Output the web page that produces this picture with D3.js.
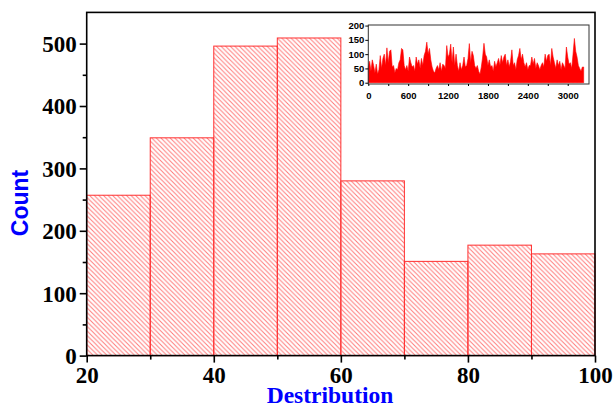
<!DOCTYPE html>
<html>
<head>
<meta charset="utf-8">
<script src="https://cdn.jsdelivr.net/npm/d3@7/dist/d3.min.js"></script>
<style>
  html, body { margin: 0; padding: 0; background: #fff; }
  svg { display: block; }
</style>
</head>
<body>
<svg id="chart" width="616" height="408"></svg>
<script>
// Histogram bins (lower edge) and counts
const binStarts = [20, 30, 40, 50, 60, 70, 80, 90];
const binWidth = 10;
const counts = [257, 349, 496, 509, 280, 151, 177, 163];
const xTicks = [20, 40, 60, 80, 100];
const yTicks = [0, 100, 200, 300, 400, 500];

// Inset series: raw signal sampled every 20 steps
const insetStep = 20;
const insetValues = [
  55, 75, 40, 80, 60, 35, 65, 30, 45, 95, 50, 85, 100, 60, 122, 70, 110, 115, 55, 60,
  35, 50, 45, 70, 80, 120, 115, 60, 45, 60, 40, 90, 70, 55, 60, 40, 90, 65, 80, 50,
  85, 60, 95, 110, 142, 100, 120, 80, 55, 40, 35, 50, 60, 45, 70, 40, 65, 60, 50, 130,
  90, 100, 135, 70, 125, 60, 100, 60, 40, 70, 45, 60, 90, 55, 60, 85, 137, 70, 110, 95,
  60, 50, 60, 40, 30, 55, 90, 138, 100, 90, 60, 80, 55, 60, 40, 75, 55, 70, 85, 60,
  95, 70, 90, 100, 60, 80, 55, 75, 115, 60, 70, 45, 80, 95, 120, 80, 100, 70, 55, 70,
  45, 60, 60, 90, 65, 85, 50, 70, 60, 45, 60, 70, 55, 100, 75, 95, 100, 60, 120, 90,
  70, 50, 80, 60, 75, 45, 70, 60, 50, 125, 90, 65, 70, 50, 100, 155, 110, 90, 60, 50,
  40, 55, 55
];
const insetXTicks = [0, 600, 1200, 1800, 2400, 3000];
const insetYTicks = [0, 50, 100, 150, 200];

const svg = d3.select("#chart");
const serif = "'Liberation Serif', 'Times New Roman', serif";
const sans = "'Liberation Sans', Arial, sans-serif";

// ---- main plot ----
const x = d3.scaleLinear().domain([20, 100]).range([86.7, 595]);
const y = d3.scaleLinear().domain([0, 550]).range([355.6, 12.4]);

// diagonal hatch fill
const defs = svg.append("defs");
const hs = 4.6;
const pat = defs.append("pattern")
  .attr("id", "hatch")
  .attr("patternUnits", "userSpaceOnUse")
  .attr("width", hs).attr("height", hs);
pat.append("path")
  .attr("d", `M0,0 L${hs},${hs} M${-hs/2},${hs/2} L${hs/2},${hs*1.5} M${hs/2},${-hs/2} L${hs*1.5},${hs/2}`)
  .attr("stroke", "#ff7a7a").attr("stroke-width", 1).attr("fill", "none");

const bins = binStarts.map((b, i) => ({ x0: b, x1: b + binWidth, n: counts[i] }));

svg.append("g").selectAll("rect").data(bins).join("rect")
  .attr("x", d => x(d.x0))
  .attr("y", d => y(d.n))
  .attr("width", d => x(d.x1) - x(d.x0))
  .attr("height", d => y(0) - y(d.n))
  .attr("fill", "url(#hatch)")
  .attr("stroke", "#ff3030")
  .attr("stroke-width", 1);

// frame
svg.append("rect")
  .attr("x", x(20)).attr("y", y(550))
  .attr("width", x(100) - x(20)).attr("height", y(0) - y(550))
  .attr("fill", "none").attr("stroke", "#000").attr("stroke-width", 1.6);

// y axis
const yAxis = svg.append("g").attr("transform", `translate(${x(20)},0)`)
  .call(d3.axisLeft(y).tickValues(yTicks).tickSize(7).tickPadding(3).tickFormat(d3.format("d")));
yAxis.select(".domain").remove();
yAxis.selectAll(".tick line").attr("stroke", "#000").attr("stroke-width", 1.6);
yAxis.selectAll(".tick text").attr("font-family", serif).attr("font-weight", "bold")
  .attr("font-size", 23).attr("fill", "#000").attr("dy", "0.34em");
svg.append("g").attr("transform", `translate(${x(20)},0)`)
  .call(d3.axisLeft(y).tickValues([50, 150, 250, 350, 450]).tickSize(4).tickFormat(""))
  .call(g => g.select(".domain").remove())
  .selectAll("line").attr("stroke", "#000").attr("stroke-width", 1.6);

// x axis
const xAxis = svg.append("g").attr("transform", `translate(0,${y(0)})`)
  .call(d3.axisBottom(x).tickValues(xTicks).tickSize(7).tickPadding(4).tickFormat(d3.format("d")));
xAxis.select(".domain").remove();
xAxis.selectAll(".tick line").attr("stroke", "#000").attr("stroke-width", 1.6);
xAxis.selectAll(".tick text").attr("font-family", serif).attr("font-weight", "bold")
  .attr("font-size", 23).attr("fill", "#000").attr("dy", "0.72em");
svg.append("g").attr("transform", `translate(0,${y(0)})`)
  .call(d3.axisBottom(x).tickValues([30, 50, 70, 90]).tickSize(4).tickFormat(""))
  .call(g => g.select(".domain").remove())
  .selectAll("line").attr("stroke", "#000").attr("stroke-width", 1.6);

// axis titles
svg.append("text")
  .attr("x", 330).attr("y", 403)
  .attr("text-anchor", "middle")
  .attr("font-family", serif).attr("font-weight", "bold").attr("font-size", 23.5)
  .attr("fill", "#0000ff")
  .text("Destribution");

svg.append("text")
  .attr("transform", "translate(28,203) rotate(-90)")
  .attr("text-anchor", "middle")
  .attr("font-family", sans).attr("font-weight", "bold").attr("font-size", 23)
  .attr("fill", "#0000ff")
  .text("Count");

// ---- inset ----
const ix = d3.scaleLinear().domain([0, 3320]).range([368.3, 589]);
const iy = d3.scaleLinear().domain([-4.5, 202]).range([84, 25]);

svg.append("rect")
  .attr("x", ix(0)).attr("y", iy(202))
  .attr("width", ix(3320) - ix(0)).attr("height", iy(-4.5) - iy(202))
  .attr("fill", "#fff");

const insetData = insetValues.map((v, i) => ({ t: i * insetStep, v }));
svg.append("path")
  .datum(insetData)
  .attr("d", d3.area().x(d => ix(d.t)).y0(iy(0)).y1(d => iy(d.v)))
  .attr("fill", "#ff0000")
  .attr("stroke", "#ff0000")
  .attr("stroke-width", 0.6);

svg.append("rect")
  .attr("x", ix(0)).attr("y", iy(202))
  .attr("width", ix(3320) - ix(0)).attr("height", iy(-4.5) - iy(202))
  .attr("fill", "none").attr("stroke", "#333").attr("stroke-width", 1);

const iyAxis = svg.append("g").attr("transform", `translate(${ix(0)},0)`)
  .call(d3.axisLeft(iy).tickValues(insetYTicks).tickSize(3).tickPadding(1).tickFormat(d3.format("d")));
iyAxis.select(".domain").remove();
iyAxis.selectAll(".tick line").attr("stroke", "#000");
iyAxis.selectAll(".tick text").attr("font-family", sans).attr("font-weight", "bold")
  .attr("font-size", 9.5).attr("fill", "#000");

const ixAxis = svg.append("g").attr("transform", `translate(0,${iy(-4.5)})`)
  .call(d3.axisBottom(ix).tickValues(insetXTicks).tickSize(2).tickPadding(6).tickFormat(d3.format("d")));
ixAxis.select(".domain").remove();
ixAxis.selectAll(".tick line").attr("stroke", "#000");
ixAxis.selectAll(".tick text").attr("font-family", sans).attr("font-weight", "bold")
  .attr("font-size", 9.5).attr("fill", "#000");
svg.append("g").attr("transform", `translate(0,${iy(-4.5)})`)
  .call(d3.axisBottom(ix).tickValues([300, 900, 1500, 2100, 2700]).tickSize(2).tickFormat(""))
  .call(g => g.select(".domain").remove())
  .selectAll("line").attr("stroke", "#000");
</script>
</body>
</html>
